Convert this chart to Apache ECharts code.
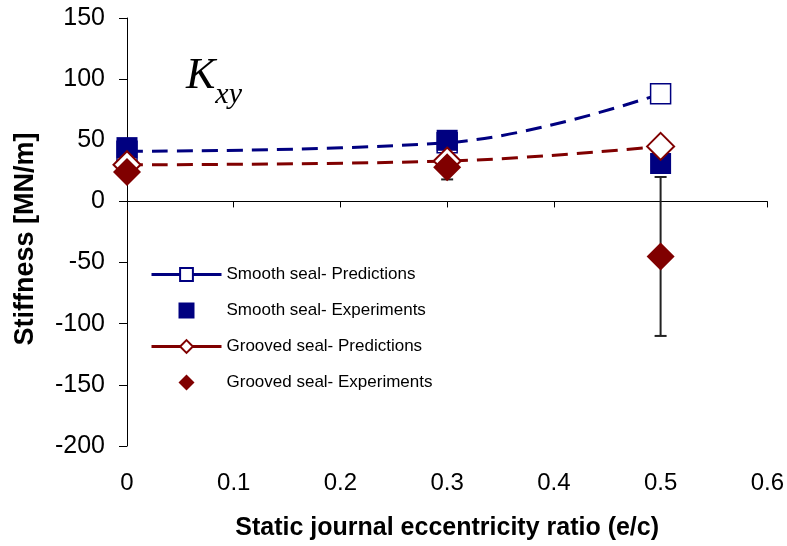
<!DOCTYPE html>
<html>
<head>
<meta charset="utf-8">
<script src="https://cdn.jsdelivr.net/npm/echarts@6/dist/echarts.min.js"></script>
<style>
  html, body { margin: 0; padding: 0; background: #fff; }
  #chart { width: 787px; height: 546px; }
</style>
</head>
<body>
<div id="chart"></div>
<script>
// eccentricity ratio e/c
const ecc = [0, 0.3, 0.5];
const smoothPred = [41, 48, 88];
const smoothExp = [44, 50, 31];
const groovedPred = [30, 33, 45];
const groovedExp = [24, 28, -45];
// grooved seal experiment uncertainty (low, high)
const groovedErrLow = [null, 18, -110];
const groovedErrHigh = [null, 38, 20];
const xTicks = ['0', '0.1', '0.2', '0.3', '0.4', '0.5', '0.6'];

const NAVY = '#000080';
const MAROON = '#800000';

const pairs = (ys) => ecc.map((x, i) => [x, ys[i]]);
const errData = ecc.map((x, i) => [x, groovedErrLow[i], groovedErrHigh[i]])
    .filter(d => d[1] !== null);

var myChart = echarts.init(document.getElementById('chart'));
var option = {
    backgroundColor: '#fff',
    animation: false,
    grid: { left: 127, right: 18, top: 18, bottom: 99 },
    graphic: [{
        type: 'text',
        left: 186,
        top: 54,
        style: {
            text: '{k|K}{s|xy}',
            rich: {
                k: { fontFamily: 'Liberation Serif', fontStyle: 'italic', fontSize: 44, fill: '#000' },
                s: { fontFamily: 'Liberation Serif', fontStyle: 'italic', fontSize: 30, fill: '#000', padding: [38, 0, 0, 0] }
            }
        }
    }],
    legend: {
        orient: 'vertical',
        left: 145,
        top: 261,
        itemWidth: 70,
        itemHeight: 16,
        itemGap: 19,
        symbolKeepAspect: true,
        textStyle: { fontFamily: 'Liberation Sans', fontSize: 17, color: '#000' },
        lineStyle: { type: 'solid', width: 3 },
        data: [
            'Smooth seal- Predictions',
            { name: 'Smooth seal- Experiments', icon: 'path://M0 0H10V10H0Z' },
            'Grooved seal- Predictions',
            { name: 'Grooved seal- Experiments', icon: 'path://M5 0L10 5L5 10L0 5Z' }
        ]
    },
    xAxis: {
        type: 'value',
        min: 0, max: 0.6, interval: 0.1,
        name: 'Static journal eccentricity ratio (e/c)',
        nameLocation: 'middle',
        nameGap: 70,
        nameTextStyle: { fontFamily: 'Liberation Sans', fontWeight: 'bold', fontSize: 25, color: '#000' },
        axisLine: { show: true, lineStyle: { color: '#000', width: 1 } },
        axisTick: { show: true, inside: false, length: 6, lineStyle: { color: '#000' } },
        axisLabel: {
            margin: 25,
            fontFamily: 'Liberation Sans', fontSize: 24, color: '#000',
            formatter: (v) => xTicks[Math.round(v * 10)]
        },
        splitLine: { show: false }
    },
    yAxis: {
        type: 'value',
        min: -200, max: 150, interval: 50,
        name: 'Stiffness [MN/m]',
        nameLocation: 'middle',
        nameGap: 88,
        nameTextStyle: { fontFamily: 'Liberation Sans', fontWeight: 'bold', fontSize: 27, color: '#000', padding: [0, 14, 0, 0] },
        axisLine: { show: true, onZero: false, lineStyle: { color: '#000', width: 1 } },
        axisTick: { show: true, inside: false, length: 8, lineStyle: { color: '#000' } },
        axisLabel: { margin: 22, fontFamily: 'Liberation Sans', fontSize: 25, color: '#000' },
        splitLine: { show: false }
    },
    series: [
        {
            name: 'errors',
            type: 'custom',
            data: errData,
            z: 1,
            renderItem: function (params, api) {
                const lo = api.coord([api.value(0), api.value(1)]);
                const hi = api.coord([api.value(0), api.value(2)]);
                const w = 6;
                const st = { stroke: '#222', lineWidth: 2 };
                return {
                    type: 'group',
                    children: [
                        { type: 'line', shape: { x1: lo[0], y1: lo[1], x2: hi[0], y2: hi[1] }, style: st },
                        { type: 'line', shape: { x1: lo[0] - w, y1: lo[1], x2: lo[0] + w, y2: lo[1] }, style: st },
                        { type: 'line', shape: { x1: hi[0] - w, y1: hi[1], x2: hi[0] + w, y2: hi[1] }, style: st }
                    ]
                };
            }
        },
        {
            name: 'Smooth seal- Predictions',
            type: 'line',
            smooth: 0.4,
            data: pairs(smoothPred),
            z: 2,
            symbol: 'rect',
            symbolSize: 20,
            showAllSymbol: true,
            lineStyle: { color: NAVY, width: 3, type: [16, 9] },
            itemStyle: { color: '#fff', borderColor: NAVY, borderWidth: 1.5 }
        },
        {
            name: 'Smooth seal- Experiments',
            type: 'scatter',
            data: pairs(smoothExp),
            z: 3,
            symbol: 'rect',
            symbolSize: 21,
            itemStyle: { color: NAVY, opacity: 1 }
        },
        {
            name: 'Grooved seal- Predictions',
            type: 'line',
            smooth: 0.4,
            data: pairs(groovedPred),
            z: 4,
            symbol: 'diamond',
            symbolSize: 27,
            showAllSymbol: true,
            lineStyle: { color: MAROON, width: 3, type: [16, 9] },
            itemStyle: { color: '#fff', borderColor: MAROON, borderWidth: 2 }
        },
        {
            name: 'Grooved seal- Experiments',
            type: 'scatter',
            data: pairs(groovedExp),
            z: 5,
            symbol: 'diamond',
            symbolSize: 28,
            itemStyle: { color: MAROON, opacity: 1 }
        }
    ]
};
option && myChart.setOption(option);
</script>
</body>
</html>
